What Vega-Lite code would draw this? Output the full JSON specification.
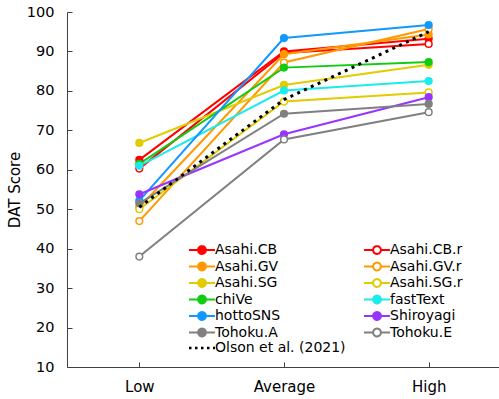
{
  "$schema": "https://vega.github.io/schema/vega-lite/v6.json",
  "width": 434,
  "height": 355,
  "autosize": "none",
  "padding": {"left": 67, "top": 12, "right": 0, "bottom": 32},
  "config": {
    "view": {"stroke": null},
    "font": "DejaVu Sans",
    "axis": {"grid": false, "domainColor": "#404040", "tickColor": "#404040", "labelColor": "black", "titleColor": "black"}
  },
  "data": {
    "values": [
      {"series": "Asahi.CB", "level": "Low", "score": 62.5},
      {"series": "Asahi.CB", "level": "Average", "score": 90.0},
      {"series": "Asahi.CB", "level": "High", "score": 93.2},
      {"series": "Asahi.CB.r", "level": "Low", "score": 60.3},
      {"series": "Asahi.CB.r", "level": "Average", "score": 89.6},
      {"series": "Asahi.CB.r", "level": "High", "score": 91.9},
      {"series": "Asahi.GV", "level": "Low", "score": 50.5},
      {"series": "Asahi.GV", "level": "Average", "score": 89.3},
      {"series": "Asahi.GV", "level": "High", "score": 94.3},
      {"series": "Asahi.GV.r", "level": "Low", "score": 47.0},
      {"series": "Asahi.GV.r", "level": "Average", "score": 87.2},
      {"series": "Asahi.GV.r", "level": "High", "score": 95.7},
      {"series": "Asahi.SG", "level": "Low", "score": 66.8},
      {"series": "Asahi.SG", "level": "Average", "score": 81.5},
      {"series": "Asahi.SG", "level": "High", "score": 86.6},
      {"series": "Asahi.SG.r", "level": "Low", "score": 50.0},
      {"series": "Asahi.SG.r", "level": "Average", "score": 77.3},
      {"series": "Asahi.SG.r", "level": "High", "score": 79.6},
      {"series": "chiVe", "level": "Low", "score": 61.5},
      {"series": "chiVe", "level": "Average", "score": 85.9},
      {"series": "chiVe", "level": "High", "score": 87.3},
      {"series": "fastText", "level": "Low", "score": 61.0},
      {"series": "fastText", "level": "Average", "score": 80.1},
      {"series": "fastText", "level": "High", "score": 82.5},
      {"series": "hottoSNS", "level": "Low", "score": 52.2},
      {"series": "hottoSNS", "level": "Average", "score": 93.4},
      {"series": "hottoSNS", "level": "High", "score": 96.7},
      {"series": "Shiroyagi", "level": "Low", "score": 53.8},
      {"series": "Shiroyagi", "level": "Average", "score": 69.0},
      {"series": "Shiroyagi", "level": "High", "score": 78.4},
      {"series": "Tohoku.A", "level": "Low", "score": 51.5},
      {"series": "Tohoku.A", "level": "Average", "score": 74.2},
      {"series": "Tohoku.A", "level": "High", "score": 76.7},
      {"series": "Tohoku.E", "level": "Low", "score": 38.0},
      {"series": "Tohoku.E", "level": "Average", "score": 67.7},
      {"series": "Tohoku.E", "level": "High", "score": 74.6},
      {"series": "Olson et al. (2021)", "level": "Low", "score": 50.5},
      {"series": "Olson et al. (2021)", "level": "Average", "score": 77.8},
      {"series": "Olson et al. (2021)", "level": "High", "score": 95.0}
    ]
  },
  "encoding": {
    "x": {
      "field": "level", "type": "ordinal", "sort": ["Low", "Average", "High"],
      "scale": {"type": "point", "padding": 0.5},
      "axis": {"title": null, "labelAngle": 0, "labelFontSize": 15, "tickSize": -5, "labelPadding": 17}
    },
    "y": {
      "field": "score", "type": "quantitative",
      "scale": {"domain": [10, 100], "nice": false, "zero": false},
      "axis": {"values": [10, 20, 30, 40, 50, 60, 70, 80, 90, 100], "title": "DAT Score", "titleFontSize": 15, "titleFontWeight": "normal", "titlePadding": 4, "labelFontSize": 14.5, "tickSize": -5, "labelPadding": 18}
    },
    "stroke": {
      "field": "series", "type": "nominal",
      "scale": {
        "domain": ["Asahi.CB", "Asahi.CB.r", "Asahi.GV", "Asahi.GV.r", "Asahi.SG", "Asahi.SG.r", "chiVe", "fastText", "hottoSNS", "Shiroyagi", "Tohoku.A", "Tohoku.E", "Olson et al. (2021)"],
        "range": ["#FF0000", "#FF0000", "#FF9900", "#FF9900", "#E0CC00", "#E0CC00", "#11CC11", "#1CEBEB", "#1199FF", "#9933FF", "#808080", "#808080", "#000000"]
      },
      "legend": {
        "orient": "none", "direction": "horizontal", "legendX": 128, "legendY": 231, "columns": 2, "title": null,
        "labelFontSize": 14, "labelColor": "black", "symbolSize": 676, "symbolStrokeWidth": 2,
        "rowPadding": 0.5, "columnPadding": 14, "labelOffset": 6, "padding": 0,
        "encode": {
          "symbols": {
            "update": {
              "shape": {"signal": "datum.value === 'Olson et al. (2021)' ? 'M-1,0H1' : 'M-1,0H-0.3M0.3,0H1M-0.3,0A0.3,0.3,0,1,1,0.3,0A0.3,0.3,0,1,1,-0.3,0Z'"},
              "fill": {"signal": "indexof(['Asahi.CB.r','Asahi.GV.r','Asahi.SG.r','Tohoku.E','Olson et al. (2021)'], datum.value) >= 0 ? 'white' : scale('stroke', datum.value)"},
              "stroke": {"signal": "scale('stroke', datum.value)"},
              "strokeDash": {"signal": "datum.value === 'Olson et al. (2021)' ? [2.5, 3.5] : [1, 0]"},
              "strokeWidth": {"signal": "datum.value === 'Olson et al. (2021)' ? 2.5 : 2"},
              "opacity": {"value": 1}
            }
          }
        }
      }
    }
  },
  "layer": [
    {
      "transform": [{"filter": "datum.series !== 'Olson et al. (2021)'"}],
      "mark": {"type": "line", "strokeWidth": 2}
    },
    {
      "transform": [{"filter": "datum.series !== 'Olson et al. (2021)'"}],
      "mark": {"type": "point", "shape": "circle", "size": 45, "strokeWidth": 1.5, "opacity": 1, "filled": false},
      "encoding": {
        "fill": {
          "field": "series", "type": "nominal",
          "scale": {
            "domain": ["Asahi.CB", "Asahi.CB.r", "Asahi.GV", "Asahi.GV.r", "Asahi.SG", "Asahi.SG.r", "chiVe", "fastText", "hottoSNS", "Shiroyagi", "Tohoku.A", "Tohoku.E", "Olson et al. (2021)"],
            "range": ["#FF0000", "#FFFFFF", "#FF9900", "#FFFFFF", "#E0CC00", "#FFFFFF", "#11CC11", "#1CEBEB", "#1199FF", "#9933FF", "#808080", "#FFFFFF", "#000000"]
          },
          "legend": null
        }
      }
    },
    {
      "transform": [{"filter": "datum.series === 'Olson et al. (2021)'"}],
      "mark": {"type": "line", "strokeWidth": 3, "strokeDash": [3, 4.5], "strokeCap": "butt"}
    }
  ]
}
